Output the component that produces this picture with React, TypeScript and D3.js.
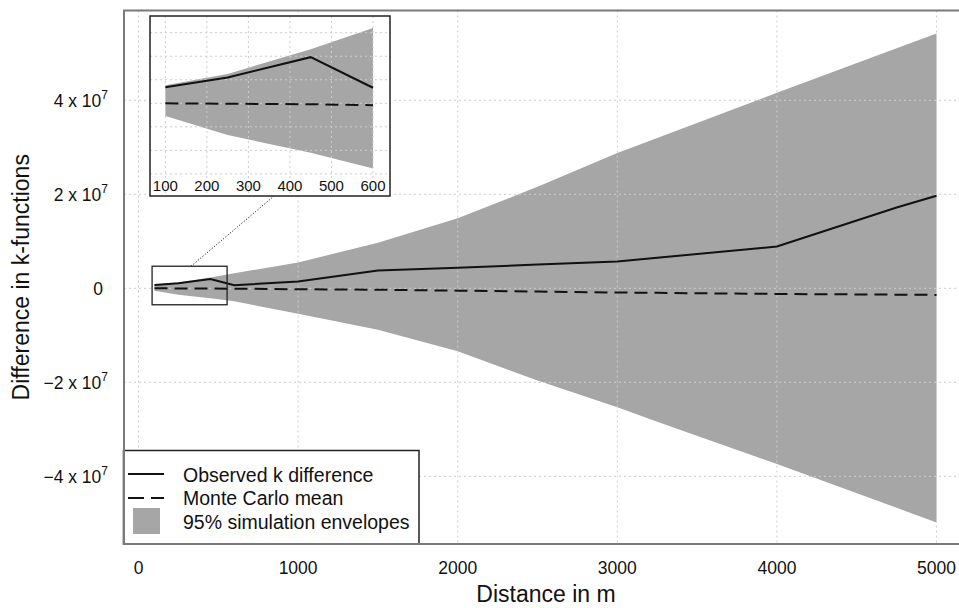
import React from 'react';
import * as d3 from 'd3';

// ---- data (values in k-function units) ----
const distances = [100, 250, 450, 600, 1000, 1500, 2000, 2500, 3000, 3250, 4000, 4750, 5000];
const observed = [0.68e6, 1.1e6, 1.96e6, 0.66e6, 1.45e6, 3.8e6, 4.4e6, 5.05e6, 5.7e6, 6.5e6, 8.9e6, 17.2e6, 19.7e6];
const mcMean = [0, -0.02e6, -0.04e6, -0.08e6, -0.2e6, -0.3e6, -0.5e6, -0.7e6, -0.9e6, -0.97e6, -1.2e6, -1.35e6, -1.4e6];
const envUpper = [0.77e6, 1.25e6, 2.3e6, 3.2e6, 5.5e6, 9.7e6, 14.9e6, 21.6e6, 28.8e6, 32e6, 41.6e6, 51.1e6, 54.2e6];
const envLower = [-0.54e6, -1.35e6, -2.1e6, -2.77e6, -5.4e6, -8.8e6, -13.4e6, -19.6e6, -25.3e6, -28.4e6, -37.4e6, -46.7e6, -49.8e6];

const xTicks = [0, 1000, 2000, 3000, 4000, 5000];
const yTicks = [-4e7, -2e7, 0, 2e7, 4e7];
const yTickMantissa = ['\u22124', '\u22122', '0', '2', '4'];
const insetXTicks = [100, 200, 300, 400, 500, 600];
const insetYGrid = [-3e6, -2e6, -1e6, 0, 1e6, 2e6, 3e6];
const insetMaxDistance = 600;
const zoomBox = { x0: 85, x1: 555, y0: -3.5e6, y1: 4.7e6 };

const legendLabels = ['Observed k difference', 'Monte Carlo mean', '95% simulation envelopes'];
const xTitle = 'Distance in m';
const yTitle = 'Difference in k-functions';

const FONT = '"Liberation Sans", Arial, Helvetica, sans-serif';
const BAND = '#a6a6a6';
const GRID = '#cdcdcd';

type Row = { d: number; obs: number; mean: number; lo: number; hi: number };
const rows: Row[] = distances.map((d, i) => ({ d, obs: observed[i], mean: mcMean[i], lo: envLower[i], hi: envUpper[i] }));

export default function App() {
  const W = 959, H = 608;
  // main scales
  const x = d3.scaleLinear().domain([-96, 5196]).range([123.2, 967.8]);
  const y = d3.scaleLinear().domain([-54.4e6, 59e6]).range([544, 11]);
  const plot = { l: 124, t: 10.5, r: 968, b: 544 };

  const area = d3.area<Row>().x(r => x(r.d)).y0(r => y(r.lo)).y1(r => y(r.hi));
  const lineObs = d3.line<Row>().x(r => x(r.d)).y(r => y(r.obs));
  const lineMean = d3.line<Row>().x(r => x(r.d)).y(r => y(r.mean));

  // inset scales
  const ix = d3.scaleLinear().domain([63, 641]).range([150, 390]);
  const iy = d3.scaleLinear().domain([-3.94e6, 3.71e6]).range([196, 16]);
  const irows = rows.filter(r => r.d <= insetMaxDistance);
  const iarea = d3.area<Row>().x(r => ix(r.d)).y0(r => iy(r.lo)).y1(r => iy(r.hi));
  const ilineObs = d3.line<Row>().x(r => ix(r.d)).y(r => iy(r.obs));
  const ilineMean = d3.line<Row>().x(r => ix(r.d)).y(r => iy(r.mean));

  const zb = { x: x(zoomBox.x0), y: y(zoomBox.y1), w: x(zoomBox.x1) - x(zoomBox.x0), h: y(zoomBox.y0) - y(zoomBox.y1) };
  const connStart = { x: zb.x + zb.w * 0.52, y: zb.y };
  const connEnd = { x: 274, y: 196 };

  const leg = { x: 123.5, y: 450.5, w: 295.5, h: 93.5 };

  return (
    <svg width={W} height={H} style={{ position: 'absolute', left: 0, top: 0, background: '#fff' }} fontFamily={FONT}>
      <defs>
        <clipPath id="plotClip"><rect x={plot.l} y={plot.t} width={plot.r - plot.l} height={plot.b - plot.t} /></clipPath>
        <clipPath id="insetClip"><rect x={150} y={16} width={240} height={180} /></clipPath>
      </defs>
      <rect x={0} y={0} width={W} height={H} fill="#fff" />

      <g clipPath="url(#plotClip)">
        <path d={area(rows) || ''} fill={BAND} />
        {xTicks.map(t => (
          <line key={'gx' + t} x1={x(t)} x2={x(t)} y1={plot.t} y2={plot.b} stroke={GRID} strokeWidth={1} strokeDasharray="2,3" />
        ))}
        {yTicks.map(t => (
          <line key={'gy' + t} x1={plot.l} x2={plot.r} y1={y(t)} y2={y(t)} stroke={GRID} strokeWidth={1} strokeDasharray="2,3" />
        ))}
        <path d={lineMean(rows) || ''} fill="none" stroke="#111" strokeWidth={2} strokeDasharray="13,7" />
        <path d={lineObs(rows) || ''} fill="none" stroke="#111" strokeWidth={2} />
        <rect x={zb.x} y={zb.y} width={zb.w} height={zb.h} fill="none" stroke="#222" strokeWidth={1.3} />
        <line x1={connStart.x} y1={connStart.y} x2={connEnd.x} y2={connEnd.y} stroke="#222" strokeWidth={1} strokeDasharray="1.2,1.8" />
      </g>

      {/* inset */}
      <rect x={150} y={16} width={240} height={180} fill="#fff" />
      <g clipPath="url(#insetClip)">
        <path d={iarea(irows) || ''} fill={BAND} />
        {insetXTicks.map(t => (
          <line key={'igx' + t} x1={ix(t)} x2={ix(t)} y1={16} y2={196} stroke={GRID} strokeWidth={1} strokeDasharray="2,3" />
        ))}
        {insetYGrid.map(t => (
          <line key={'igy' + t} x1={150} x2={390} y1={iy(t)} y2={iy(t)} stroke={GRID} strokeWidth={1} strokeDasharray="2,3" />
        ))}
        <path d={ilineMean(irows) || ''} fill="none" stroke="#111" strokeWidth={2} strokeDasharray="13,7" />
        <path d={ilineObs(irows) || ''} fill="none" stroke="#111" strokeWidth={2} />
        {insetXTicks.map(t => (
          <text key={'itx' + t} x={ix(t)} y={190.5} textAnchor="middle" fontSize={15} fill="#111">{t}</text>
        ))}
      </g>
      <rect x={150} y={16} width={240} height={180} fill="none" stroke="#222" strokeWidth={1.5} />

      {/* legend */}
      <rect x={leg.x} y={leg.y} width={leg.w} height={leg.h} fill="#fff" stroke="#222" strokeWidth={1.5} />
      <line x1={128} x2={164} y1={474} y2={474} stroke="#111" strokeWidth={2} />
      <line x1={128} x2={164} y1={498} y2={498} stroke="#111" strokeWidth={2} strokeDasharray="16,7" />
      <rect x={133} y={508} width={27} height={26} fill={BAND} />
      {legendLabels.map((s, i) => (
        <text key={s} x={183} y={481.5 + i * 23.5} fontSize={19.5} fill="#111">{s}</text>
      ))}

      {/* frame */}
      <path d={`M${plot.r},${plot.t}H${plot.l}V${plot.b}H${plot.r}`} fill="none" stroke="#7a7a7a" strokeWidth={2} />

      {/* x ticks */}
      {xTicks.map(t => (
        <text key={'xt' + t} x={x(t)} y={574} textAnchor="middle" fontSize={17.5} fill="#111">{t}</text>
      ))}
      <text x={(plot.l + plot.r) / 2} y={602} textAnchor="middle" fontSize={23} fill="#111">{xTitle}</text>

      {/* y ticks */}
      {yTicks.map((t, i) => (
        t === 0 ? (
          <text key={'yt' + t} x={103} y={y(t) + 6.5} textAnchor="end" fontSize={17.5} fill="#111">0</text>
        ) : (
          <text key={'yt' + t} x={108} y={y(t) + 6.5} textAnchor="end" fontSize={17.5} fill="#111">
            {yTickMantissa[i] + ' x 10'}
            <tspan fontSize={12} dy={-8}>7</tspan>
          </text>
        )
      ))}
      <text transform={`translate(29,${(plot.t + plot.b) / 2}) rotate(-90)`} textAnchor="middle" fontSize={23} fill="#111">{yTitle}</text>
    </svg>
  );
}
